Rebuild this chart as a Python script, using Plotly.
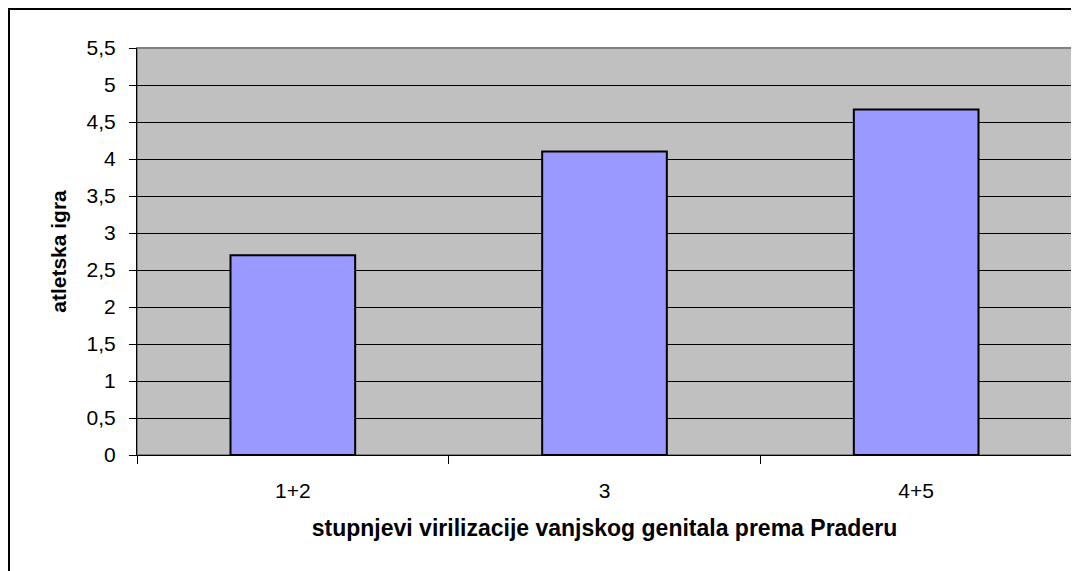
import plotly.graph_objects as go

categories = ["1+2", "3", "4+5"]
values = [2.70, 4.10, 4.67]
y_ticks = [0, 0.5, 1, 1.5, 2, 2.5, 3, 3.5, 4, 4.5, 5, 5.5]
y_ticktext = ["0", "0,5", "1", "1,5", "2", "2,5", "3", "3,5", "4", "4,5", "5", "5,5"]
x_title = "stupnjevi virilizacije vanjskog genitala prema Praderu"
y_title = "atletska igra"

# page body has an 8px margin, so the figure starts at (8, 8)
W, H = 1071, 563
L, R, T, B = 129, 7, 40, 116
pw, ph = W - L - R, H - T - B

fig = go.Figure()
fig.add_trace(go.Bar(
    x=categories, y=values, width=0.40,
    marker=dict(color="#9999FF", line=dict(color="#000000", width=2)),
))

font = "Liberation Sans, Arial, sans-serif"
fig.update_layout(
    width=W, height=H,
    margin=dict(l=L, r=R, t=T, b=B, pad=0),
    paper_bgcolor="white", plot_bgcolor="#C0C0C0",
    showlegend=False,
    font=dict(family=font, size=21, color="black"),
    xaxis=dict(
        type="category", tickson="boundaries", ticks="outside", ticklen=8,
        tickcolor="black", showline=True, linecolor="black", linewidth=1,
        showgrid=False, ticklabelstandoff=17, tickfont=dict(size=21),
        title=dict(text="<b>" + x_title + "</b>", font=dict(size=23), standoff=18),
    ),
    yaxis=dict(
        range=[0, 5.5], tickvals=y_ticks, ticktext=y_ticktext,
        ticks="outside", ticklen=7, tickcolor="black",
        showline=True, linecolor="black", linewidth=1,
        showgrid=True, gridcolor="#000000", gridwidth=1,
        zeroline=False, tickfont=dict(size=21), ticklabelstandoff=9,
        title=dict(text="<b>" + y_title + "</b>", font=dict(size=21), standoff=14),
    ),
    shapes=[
        dict(type="rect", xref="paper", yref="paper", x0=0, x1=1, y0=0, y1=1,
             line=dict(color="#808080", width=2), layer="below"),
        dict(type="rect", xref="paper", yref="paper",
             x0=(1 - L) / pw, x1=(W + 20 - L) / pw,
             y0=-(H + 20 - T - ph) / ph, y1=(T + ph - 1) / ph,
             line=dict(color="black", width=2), layer="above"),
    ],
)

fig.write_html("out.html")
